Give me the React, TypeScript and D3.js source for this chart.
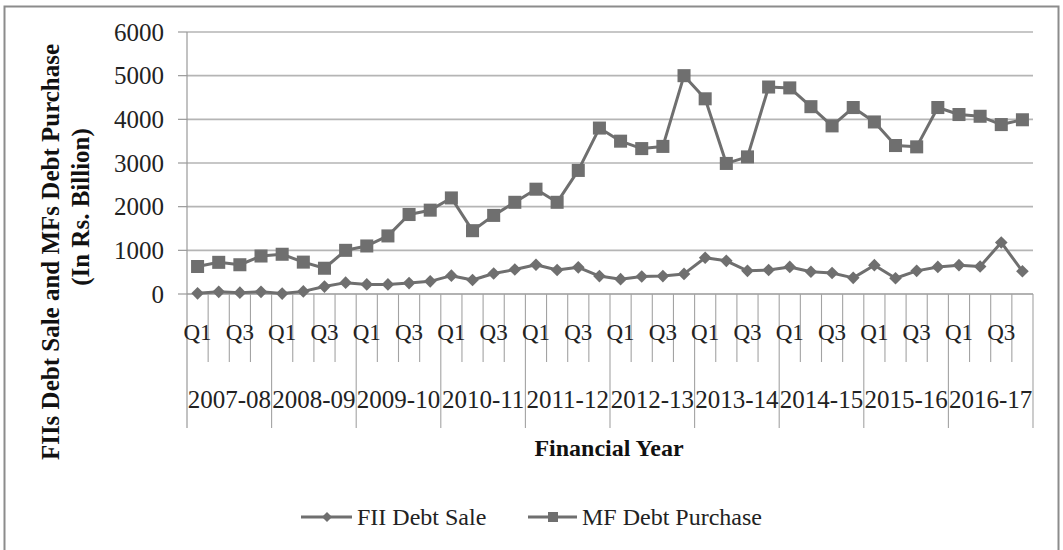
import React from 'react';
import { scaleLinear, scaleBand, line, symbol, symbolSquare } from 'd3';

const years = [
  '2007-08', '2008-09', '2009-10', '2010-11', '2011-12',
  '2012-13', '2013-14', '2014-15', '2015-16', '2016-17',
];
const quarters = ['Q1', 'Q2', 'Q3', 'Q4'];

// FII debt sale, Rs. billion, one value per quarter
const fiiDebtSale = [
  15, 50, 30, 50, 10, 60, 170, 260, 220, 220,
  250, 290, 420, 320, 470, 560, 670, 550, 610, 410,
  340, 400, 410, 460, 830, 760, 530, 550, 620, 510,
  480, 370, 660, 360, 530, 620, 660, 630, 1180, 520,
];
// MF debt purchase, Rs. billion
const mfDebtPurchase = [
  630, 725, 670, 870, 910, 730, 590, 1000, 1100, 1330,
  1820, 1920, 2200, 1450, 1800, 2100, 2400, 2100, 2830, 3800,
  3500, 3330, 3380, 5000, 4470, 2990, 3140, 4740, 4720, 4290,
  3850, 4270, 3940, 3400, 3370, 4270, 4110, 4070, 3880, 3990,
];
const yTicks = [0, 1000, 2000, 3000, 4000, 5000, 6000];

const W = 1063;
const H = 550;
const left = 187;
const right = 1033;
const top = 32;
const bottom = 294;
const font = '"Liberation Serif", "Times New Roman", serif';
const markColor = '#6f6f6f';

function App() {
  const cats = years.flatMap((y) => quarters.map((q) => `${y} ${q}`));
  const x = scaleBand<string>().domain(cats).range([left, right]).padding(0);
  const y = scaleLinear().domain([0, 6000]).range([bottom, top]);
  const bw = x.bandwidth();
  const cx = (i: number) => (x(cats[i]) as number) + bw / 2;

  const path = line<number>()
    .x((_, i) => cx(i))
    .y((d) => y(d));

  const square = symbol().type(symbolSquare).size(170)() as string;
  const diamond = symbol().type(symbolSquare).size(80)() as string;
  const legSquare = symbol().type(symbolSquare).size(100)() as string;
  const legDiamond = symbol().type(symbolSquare).size(50)() as string;

  return (
    <svg width={W} height={H} style={{ position: 'absolute', left: 0, top: 0, background: '#fff' }}>
      <rect x={4.5} y={6.5} width={1054} height={560} fill="#fff" stroke="#8c8c8c" strokeWidth={2} />

      {/* gridlines */}
      {yTicks.map((t) => (
        <g key={t}>
          <line x1={left} x2={right} y1={y(t)} y2={y(t)} stroke={t === 0 ? '#999' : '#b5b5b5'} strokeWidth={1.6} />
          <line x1={178} x2={left} y1={y(t)} y2={y(t)} stroke="#999" strokeWidth={1.2} />
          <text x={164} y={y(t) + 8.5} textAnchor="end" fontFamily={font} fontSize={25} fill="#222">
            {t}
          </text>
        </g>
      ))}
      <line x1={left} x2={left} y1={top} y2={428} stroke="#999" strokeWidth={1.2} />

      {/* category axis: quarter and year levels */}
      {cats.map((c, i) => {
        const bx = (x(c) as number) + bw;
        const yearEnd = (i + 1) % 4 === 0;
        return (
          <line key={c} x1={bx} x2={bx} y1={bottom} y2={yearEnd ? 428 : 362} stroke="#a3a3a3" strokeWidth={1.1} />
        );
      })}
      {cats.map((c, i) =>
        i % 2 === 0 ? (
          <text key={c} x={cx(i)} y={340} textAnchor="middle" fontFamily={font} fontSize={23} fill="#222">
            {quarters[i % 4]}
          </text>
        ) : null
      )}
      {years.map((yr, j) => {
        const x0 = x(cats[j * 4]) as number;
        return (
          <text key={yr} x={x0 + bw * 2} y={408} textAnchor="middle" fontFamily={font} fontSize={25} fill="#222">
            {yr}
          </text>
        );
      })}

      {/* series */}
      <path d={path(fiiDebtSale) as string} fill="none" stroke={markColor} strokeWidth={3} strokeLinejoin="round" />
      <path d={path(mfDebtPurchase) as string} fill="none" stroke={markColor} strokeWidth={3} strokeLinejoin="round" />
      {fiiDebtSale.map((v, i) => (
        <path key={i} d={diamond} transform={`translate(${cx(i)},${y(v)}) rotate(45)`} fill={markColor} />
      ))}
      {mfDebtPurchase.map((v, i) => (
        <path key={i} d={square} transform={`translate(${cx(i)},${y(v)})`} fill={markColor} />
      ))}

      {/* axis titles */}
      <text x={609} y={456} textAnchor="middle" fontFamily={font} fontSize={24} fontWeight="bold" fill="#111">
        Financial Year
      </text>
      <text transform="translate(59,252) rotate(-90)" textAnchor="middle" fontFamily={font} fontSize={25} fontWeight="bold" fill="#111">
        FIIs Debt Sale and MFs Debt Purchase
      </text>
      <text transform="translate(89,207) rotate(-90)" textAnchor="middle" fontFamily={font} fontSize={25} fontWeight="bold" fill="#111">
        (In Rs. Billion)
      </text>

      {/* legend */}
      <g>
        <line x1={301} x2={352} y1={517} y2={517} stroke={markColor} strokeWidth={3} />
        <path d={legDiamond} transform="translate(327,517) rotate(45)" fill={markColor} />
        <text x={357} y={525} fontFamily={font} fontSize={24} fill="#222">FII Debt Sale</text>
        <line x1={528} x2={577} y1={517} y2={517} stroke={markColor} strokeWidth={3} />
        <path d={legSquare} transform="translate(553,517)" fill={markColor} />
        <text x={582} y={525} fontFamily={font} fontSize={24} fill="#222">MF Debt Purchase</text>
      </g>
    </svg>
  );
}

export default App;
